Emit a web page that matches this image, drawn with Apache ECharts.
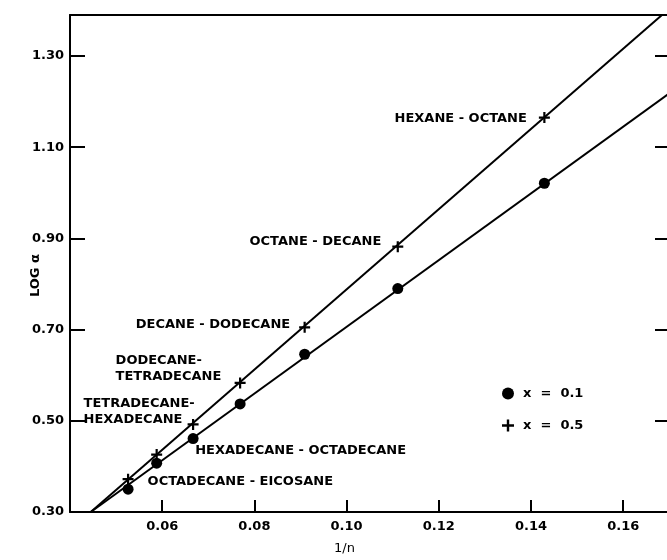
<!DOCTYPE html>
<html>
<head>
<meta charset="utf-8">
<script src="https://cdn.jsdelivr.net/npm/echarts@6/dist/echarts.min.js"></script>
<style>
  html, body { margin: 0; padding: 0; background: #fff; }
  #chart { width: 667px; height: 560px; }
</style>
</head>
<body>
<div id="chart"></div>
<script>
// Binary pairs of n-alkanes, plotted against 1/n (n = mean carbon number)
const pairs = [
  'HEXANE - OCTANE',
  'OCTANE - DECANE',
  'DECANE - DODECANE',
  'DODECANE-\nTETRADECANE',
  'TETRADECANE-\nHEXADECANE',
  'HEXADECANE - OCTADECANE',
  'OCTADECANE - EICOSANE'
];
const invN = [0.1429, 0.1111, 0.0909, 0.0769, 0.0667, 0.0588, 0.0526];
// log relative volatility at two compositions
const logAlphaX01 = [1.021, 0.790, 0.646, 0.537, 0.461, 0.407, 0.350];
const logAlphaX05 = [1.165, 0.882, 0.705, 0.583, 0.492, 0.426, 0.372];
// straight-line fits (end points, clipped by the plot frame)
const fitX01 = [[0.0445, 0.30], [0.175, 1.255]];
const fitX05 = [[0.0445, 0.30], [0.175, 1.448]];
const seriesNames = ['x = 0.1', 'x = 0.5'];

// where each pair name is written: which series it sits on, and its offset
const labelPlacement = {
  x05: {
    0: { align: 'right', position: [-12, 7] },
    1: { align: 'right', position: [-11, 0] },
    2: { align: 'right', position: [-9, 3] },
    3: { align: 'left', position: [-119, -9] },
    4: { align: 'left', position: [-104, -7] }
  },
  x01: {
    5: { align: 'left', position: [44, -7] },
    6: { align: 'left', position: [25, -2] }
  }
};

const FONT = 'DejaVu Sans';
const plusPath = 'path://M4,0H6V4H10V6H6V10H4V6H0V4H4Z';

function points(ys, placement) {
  return invN.map((x, i) => {
    const item = { value: [x, ys[i]] };
    const p = placement[i];
    if (p) {
      item.label = {
        show: true,
        formatter: pairs[i],
        position: p.position,
        align: p.align,
        verticalAlign: 'middle',
        color: '#000',
        fontFamily: FONT,
        fontWeight: 'bold',
        fontSize: 13,
        lineHeight: 16
      };
    }
    return item;
  });
}

const axisFont = { color: '#000', fontFamily: FONT, fontWeight: 'bold', fontSize: 13 };
const XMIN = 0.04, XMAX = 0.1695, YMIN = 0.30, YMAX = 1.39;

const chart = echarts.init(document.getElementById('chart'), null, { renderer: 'canvas' });
chart.setOption({
  animation: false,
  backgroundColor: '#fff',
  grid: { left: 70, top: 15, right: 0, bottom: 46 },
  legend: {
    orient: 'vertical',
    left: 497, top: 382,
    itemGap: 19, itemWidth: 12, itemHeight: 12,
    data: [
      { name: seriesNames[0], icon: 'circle' },
      { name: seriesNames[1], icon: plusPath }
    ],
    formatter: n => n.replace(/ /g, '  '),
    textStyle: { ...axisFont, padding: [0, 0, 0, 4] }
  },
  xAxis: [
    {
      type: 'value',
      min: XMIN, max: XMAX, interval: 0.02,
      name: '1/n',
      nameLocation: 'middle',
      nameGap: 30,
      nameTextStyle: { color: '#000', fontFamily: FONT, fontSize: 13, padding: [0, 48, 0, 0] },
      axisLine: { lineStyle: { color: '#000', width: 2 } },
      axisTick: { inside: true, length: 12, lineStyle: { color: '#000', width: 2 } },
      axisLabel: {
        ...axisFont, margin: 8,
        showMinLabel: false, showMaxLabel: false,
        formatter: v => v.toFixed(2)
      },
      splitLine: { show: false }
    },
    {
      // top frame line
      type: 'value',
      position: 'top',
      min: XMIN, max: XMAX,
      axisLine: { show: true, lineStyle: { color: '#000', width: 2 } },
      axisTick: { show: false },
      axisLabel: { show: false },
      splitLine: { show: false }
    }
  ],
  yAxis: [
    {
      type: 'value',
      min: YMIN, max: YMAX, interval: 0.2,
      name: 'LOG α',
      nameLocation: 'middle',
      nameGap: 28,
      nameRotate: 90,
      nameMoveOverlap: false,
      nameTextStyle: { color: '#000', fontFamily: FONT, fontWeight: 'bold', fontSize: 13, padding: [0, 24, 0, 0] },
      axisLine: { lineStyle: { color: '#000', width: 2 } },
      axisTick: { inside: true, length: 15, lineStyle: { color: '#000', width: 2 } },
      axisLabel: {
        ...axisFont, margin: 6,
        showMaxLabel: false,
        formatter: v => v.toFixed(2)
      },
      splitLine: { show: false }
    },
    {
      type: 'value',
      position: 'right',
      min: YMIN, max: YMAX, interval: 0.2,
      axisLine: { show: false },
      axisTick: { show: true, inside: true, length: 12, lineStyle: { color: '#000', width: 2 } },
      axisLabel: { show: false },
      splitLine: { show: false }
    }
  ],
  series: [
    {
      type: 'line', data: fitX01, showSymbol: false, clip: true, silent: true,
      lineStyle: { color: '#000', width: 2 }, z: 2
    },
    {
      type: 'line', data: fitX05, showSymbol: false, clip: true, silent: true,
      lineStyle: { color: '#000', width: 2 }, z: 2
    },
    {
      name: seriesNames[0], type: 'scatter', symbol: 'circle', symbolSize: 11,
      itemStyle: { color: '#000', opacity: 1 }, z: 3,
      data: points(logAlphaX01, labelPlacement.x01)
    },
    {
      name: seriesNames[1], type: 'scatter', symbol: plusPath, symbolSize: 11,
      itemStyle: { color: '#000', opacity: 1 }, z: 3,
      data: points(logAlphaX05, labelPlacement.x05)
    }
  ]
});
</script>
</body>
</html>
